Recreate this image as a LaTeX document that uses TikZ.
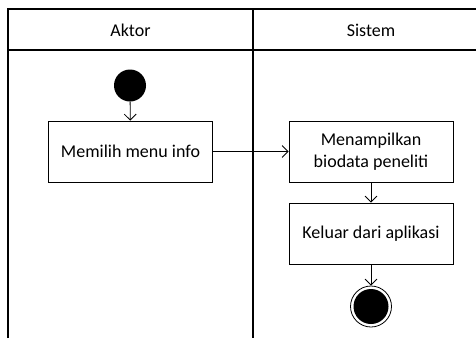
\documentclass[tikz,border=0pt]{standalone}
\usepackage{fontspec}
\setmainfont{Carlito}
\usetikzlibrary{arrows.meta}
\begin{document}
\begin{tikzpicture}[x=1pt,y=-1pt,
  lane/.style={line width=1.2pt},
  act/.style={draw, line width=0.8pt, minimum width=164pt, minimum height=61pt, align=center, font=\fontsize{18}{22}\selectfont, inner sep=0pt},
  flow/.style={line width=0.8pt, -{Straight Barb[length=6pt,width=12pt,line width=0.8pt]}},
  hdr/.style={font=\fontsize{18}{22}\selectfont}]
\useasboundingbox (0,0) rectangle (476,338);
\begin{scope}
\clip (0,0) rectangle (476,338);
\draw[lane] (8,338) -- (8,9) -- (490,9) -- (490,338);
\draw[lane] (8,50) -- (490,50);
\draw[lane] (253,9) -- (253,338);
\end{scope}
\node[hdr] (haktor) at (130.5,30) {Aktor};
\node[hdr] (hsistem) at (371,30) {Sistem};
\node[circle, fill=black, minimum size=32pt, inner sep=0pt] (start) at (130,85.5) {};
\node[act] (memilih) at (130.5,151.5) {Memilih menu info};
\node[act] (tampil) at (371,151.5) {Menampilkan\\biodata peneliti};
\node[act] (keluar) at (371,233.5) {Keluar dari aplikasi};
\node[circle, draw, line width=0.8pt, minimum size=41pt, inner sep=0pt] (end) at (371,306.5) {};
\node[circle, fill=black, minimum size=35pt, inner sep=0pt] (endin) at (end.center) {};
\draw[flow] (start) -- (memilih);
\draw[flow] (memilih) -- (tampil);
\draw[flow] (tampil) -- (keluar);
\draw[flow] (keluar) -- (end);
\end{tikzpicture}
\end{document}
